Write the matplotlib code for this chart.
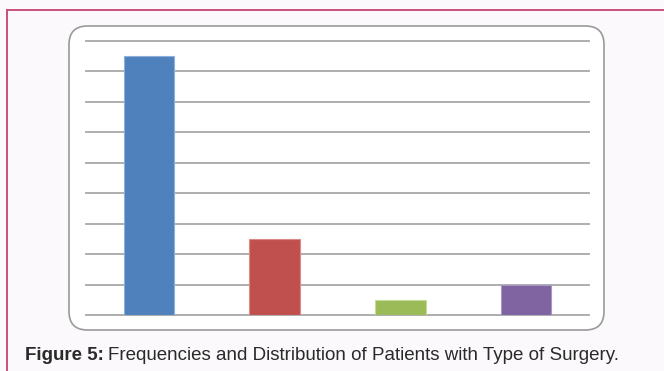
import matplotlib
matplotlib.use("Agg")
import matplotlib.pyplot as plt
from matplotlib.patches import FancyBboxPatch
from matplotlib.lines import Line2D

# surgery type counts
surgery_types = ["Type 1", "Type 2", "Type 3", "Type 4"]
frequencies = [85, 25, 5, 10]
bar_colors = ["#4f81bd", "#c0504d", "#9bbb59", "#8064a2"]
edge_colors = ["#8fb0dc", "#dc8a88", "#c5dc98", "#a796c4"]
grid_values = [0, 10, 20, 30, 40, 50, 60, 70, 80, 90]

W, H = 664, 371
fig = plt.figure(figsize=(W / 100, H / 100), dpi=100)
fig.patch.set_facecolor("#fbf9fb")

# thin frame along the top and left
fig.add_artist(Line2D([7 / W, 1.0], [1 - 10 / H, 1 - 10 / H], color="#c8507a", lw=1.4, transform=fig.transFigure))
fig.add_artist(Line2D([7 / W, 7 / W], [0.0, 1 - 10 / H], color="#c8507a", lw=1.4, transform=fig.transFigure))

# white rounded chart panel, kept behind the axes
box = FancyBboxPatch((69 / W, 1 - 330 / H), (604 - 69) / W, (330 - 26) / H,
                     boxstyle="round,pad=0,rounding_size=0.028",
                     transform=fig.transFigure, facecolor="white",
                     edgecolor="#9a9a9a", lw=1.2, mutation_aspect=W / H, zorder=-1)
fig.add_artist(box)

ax = fig.add_axes([86 / W, 1 - 315 / H, 503 / W, 274 / H])
ax.set_facecolor("none")
for v in grid_values:
    ax.axhline(v, color="#a8a8a8", lw=1.3, zorder=1, clip_on=False)

x = range(len(surgery_types))
ax.bar(x, frequencies, width=0.4, color=bar_colors, edgecolor=edge_colors,
       linewidth=0.8, zorder=2)
ax.set_xlim(-0.5, len(surgery_types) - 0.5)
ax.set_ylim(0, 90)
ax.set_xticks([])
ax.set_yticks([])
for s in ax.spines.values():
    s.set_visible(False)

# caption: bold label then the plain description right after it
cap_y = 1 - 355 / H
lab = fig.text(25 / W, cap_y, "Figure 5:", fontsize=13.5, fontweight="bold",
               family="Liberation Sans", color="#2a2a2a", va="center", ha="left")
fig.canvas.draw()
ext = lab.get_window_extent()
fig.text((ext.x1 + 4) / W, cap_y, "Frequencies and Distribution of Patients with Type of Surgery.",
         fontsize=13.5, family="Liberation Sans", color="#2a2a2a", va="center", ha="left")

fig.savefig("out.png", dpi=100, facecolor=fig.get_facecolor())
